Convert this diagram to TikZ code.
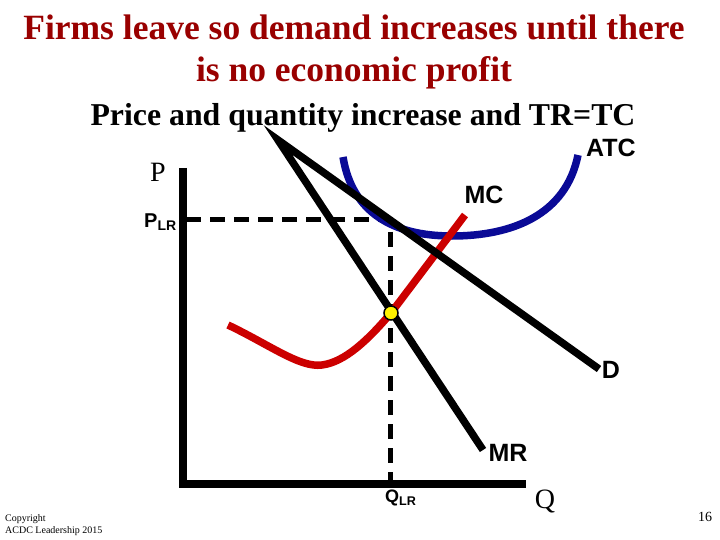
\documentclass[tikz,border=0pt]{standalone}
\usepackage{fontspec}
\setmainfont{Liberation Serif}
\setsansfont{Liberation Sans}
\begin{document}
\begin{tikzpicture}[x=1pt,y=-1pt,
  axis/.style={line width=7.5pt},
  curveline/.style={line width=7.5pt},
  guide/.style={line width=5pt, dash pattern=on 15pt off 9pt},
  lbl/.style={font=\fontsize{25}{27}\sffamily\bfseries, inner sep=0pt},
  serlbl/.style={font=\fontsize{28}{30}\selectfont, inner sep=0pt}]
\definecolor{titlered}{RGB}{153,0,0}
\definecolor{atcblue}{RGB}{10,10,150}
\definecolor{mcred}{RGB}{204,0,0}
\useasboundingbox (0,0) rectangle (720,540);
% titles
\node[font=\fontsize{35.5}{42}\selectfont\bfseries, text=titlered, align=center, inner sep=0pt] (title) at (354,52)
  {Firms leave so demand increases until there\\is no economic profit};
\node[font=\fontsize{31.8}{33}\selectfont\bfseries, inner sep=0pt] (sub) at (363,118) {Price and quantity increase and TR=TC};
% coordinates
\coordinate (top) at (183,168);
\coordinate (orig) at (183,484);
\coordinate (xend) at (526,484);
\coordinate (plr) at (186,220);
\coordinate (tan) at (390,220);
\coordinate (qlr) at (390,484);
\coordinate (eq) at (391,313);
\coordinate (dstart) at (278,140);
\coordinate (dend) at (599,369);
\coordinate (mrend) at (483,450);
% guides
\draw[guide] (plr) -- (tan) -- (qlr);
% axes
\draw[axis] (top) -- (orig) -- (xend);
% ATC
\draw[curveline, atcblue] (343,157) .. controls (352,212) and (392,236) .. (452,236)
  .. controls (512,236) and (566,215) .. (578,155);
% MC
\draw[curveline, mcred] (228,325) .. controls (270,345) and (300,368) .. (322,365)
  .. controls (345,362) and (368,340) .. (eq) -- (465,215);
% D and MR
\draw[curveline, line join=miter] (dend) -- (dstart) -- (mrend);
% equilibrium
\node[circle, fill=yellow, draw=black, line width=1.5pt, minimum size=14pt, inner sep=0pt] (dot) at (eq) {};
% labels
\node[serlbl] (P) at (158,172) {P};
\node[font=\fontsize{20}{22}\sffamily\bfseries, inner sep=0pt, anchor=west] (PLR) at (144,222) {P\textsubscript{LR}};
\node[lbl] (ATC) at (611,148) {ATC};
\node[lbl] (MC) at (484,195) {MC};
\node[lbl] (D) at (611,370) {D};
\node[lbl] (MR) at (508,453) {MR};
\node[font=\fontsize{18}{20}\sffamily\bfseries, inner sep=0pt, anchor=west] (QLR) at (385,498) {Q\textsubscript{LR}};
\node[serlbl] (Q) at (545,501) {Q};
\node[font=\fontsize{10}{12}\selectfont, align=left, anchor=north west, inner sep=0pt] (copy) at (5,514) {Copyright\\ACDC Leadership 2015};
\node[font=\fontsize{14}{16}\selectfont, inner sep=0pt] (page) at (705,517) {16};
\end{tikzpicture}
\end{document}
